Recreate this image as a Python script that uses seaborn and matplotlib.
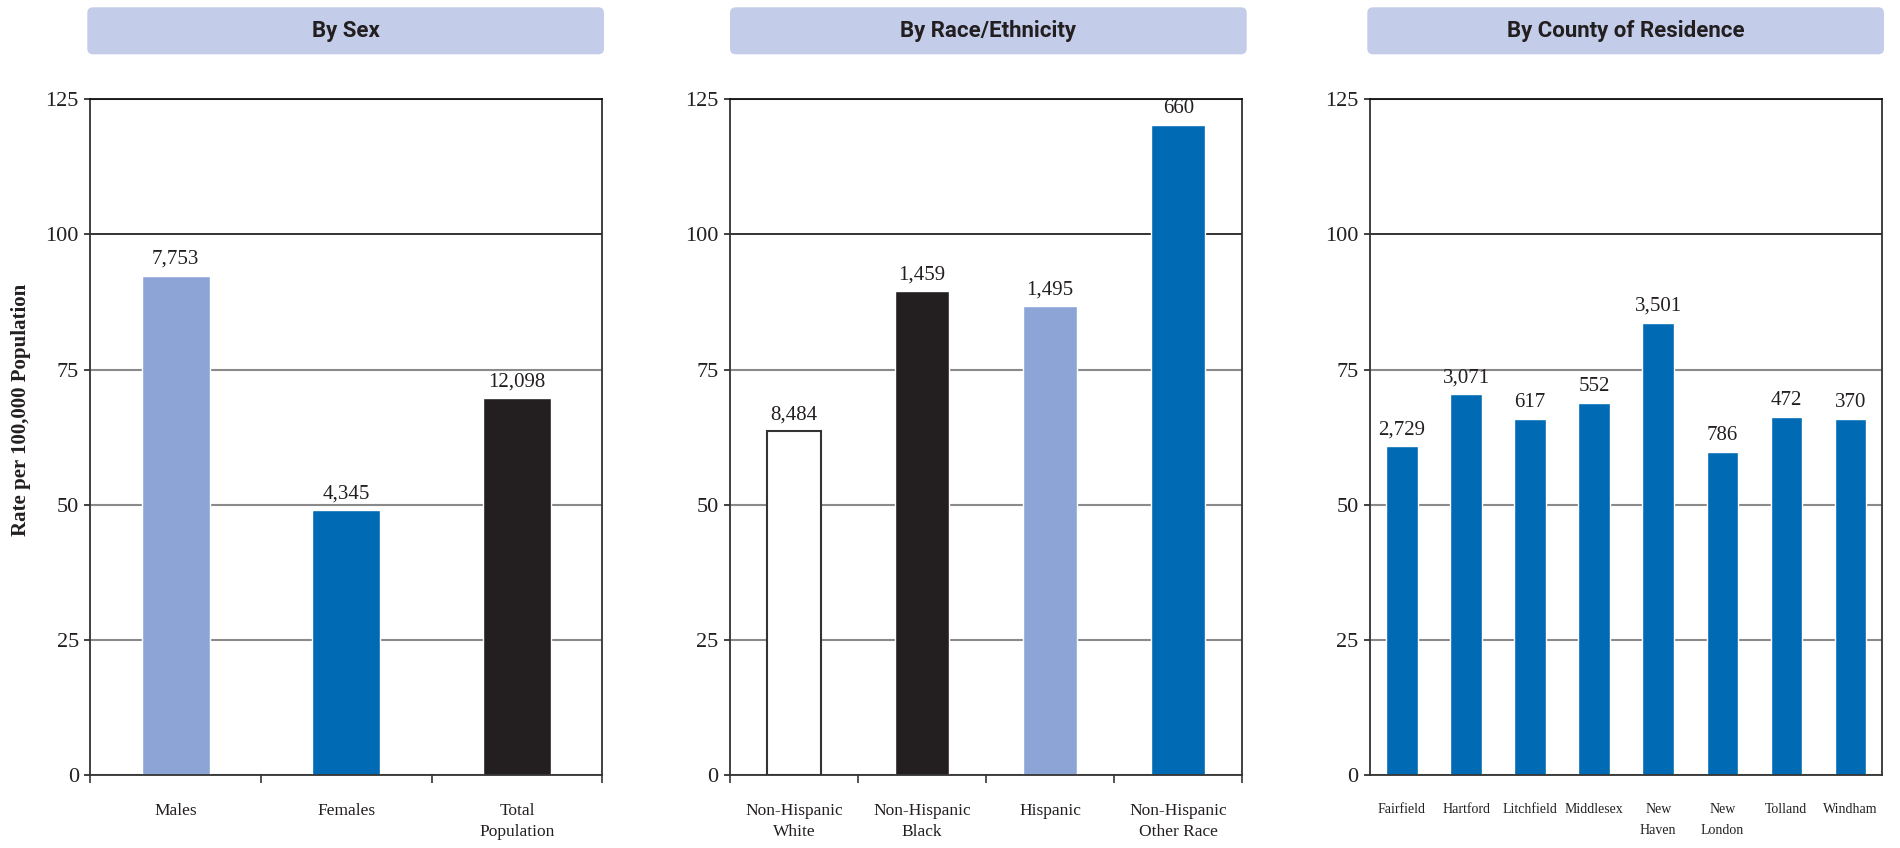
import numpy as np
import seaborn as sns
import matplotlib.pyplot as plt
from matplotlib import font_manager
from matplotlib.patches import FancyBboxPatch

# Data
sex_cats = ['Males', 'Females', 'Total\nPopulation']
sex_rates = [92.4, 49.0, 69.7]
sex_counts = ['7,753', '4,345', '12,098']

race_cats = ['Non-Hispanic\nWhite', 'Non-Hispanic\nBlack', 'Hispanic', 'Non-Hispanic\nOther Race']
race_rates = [63.6, 89.5, 86.7, 120.3]
race_counts = ['8,484', '1,459', '1,495', '660']

county_cats = ['Fairfield', 'Hartford', 'Litchfield', 'Middlesex', 'New\nHaven',
               'New\nLondon', 'Tolland', 'Windham']
county_rates = [60.8, 70.4, 65.8, 68.9, 83.7, 59.7, 66.2, 65.8]
county_counts = ['2,729', '3,071', '617', '552', '3,501', '786', '472', '370']

titles = ['By Sex', 'By Race/Ethnicity', 'By County of Residence']

LIGHT = '#8ca5d6'
BLUE = '#006ab4'
BLACK = '#231f20'
WHITE = '#ffffff'
HEADER = '#c3cde9'

sns.set_style('white')
plt.rcParams['font.family'] = ['Liberation Serif', 'DejaVu Serif']

avail = {f.name for f in font_manager.fontManager.ttflist}
head_font = 'Liberation Sans Narrow' if 'Liberation Sans Narrow' in avail else 'Roboto'

fig = plt.figure(figsize=(19, 8.48), dpi=100)

W, H = 1900, 848
def ax_rect(x0, x1, y0=99.3, y1=775):
    return [x0 / W, 1 - y1 / H, (x1 - x0) / W, (y1 - y0) / H]

panels = [
    (ax_rect(90.3, 602.3), sex_cats, sex_rates, sex_counts, [LIGHT, BLUE, BLACK], 0.4, 12.5, True),
    (ax_rect(730, 1242.3), race_cats, race_rates, race_counts, [WHITE, BLACK, LIGHT, BLUE], 0.42, 12.5, True),
    (ax_rect(1370, 1882.3), county_cats, county_rates, county_counts, [BLUE] * 8, 0.49, 10, False),
]
headers = [(87.3, 604), (730, 1246.7), (1367.3, 1884)]

for (rect, cats, rates, counts, colors, width, xsize, minor), title, (hx0, hx1) in zip(panels, titles, headers):
    ax = fig.add_axes(rect)
    sns.barplot(x=cats, y=rates, hue=cats, palette=colors, legend=False,
                width=width, saturation=1, ax=ax)
    for patch, c in zip(ax.patches, colors):
        if c == WHITE:
            patch.set_edgecolor('#333333')
            patch.set_linewidth(1.5)
    for container, lab in zip(ax.containers, counts):
        ax.bar_label(container, labels=[lab], padding=5, fontsize=15, color=BLACK)

    n = len(cats)
    ax.set_xlim(-0.5, n - 0.5)
    ax.set_ylim(0, 125)
    ax.set_yticks([0, 25, 50, 75, 100, 125])
    ax.set_xlabel('')
    ax.set_ylabel('')
    ax.tick_params(axis='y', left=True, length=4.3, width=1.2, direction='out',
                   pad=4, labelsize=16, colors=BLACK)
    ax.tick_params(axis='x', which='major', length=0, pad=20, labelsize=xsize, colors=BLACK)
    # two-line labels sit about 25 px apart in the reference
    for lbl in ax.get_xticklabels():
        lbl.set_linespacing(25 / (xsize * 100 / 72))
    if minor:
        ax.set_xticks(np.arange(-0.5, n, 1), minor=True)
        ax.tick_params(axis='x', which='minor', bottom=True, length=6, width=1.2,
                       direction='out', color='#333333')

    ax.yaxis.grid(True, color='#8a8a8a', linewidth=1.5)
    ax.set_axisbelow(True)
    grid = ax.get_ygridlines()
    grid[4].set_color('#222222')
    grid[4].set_linewidth(1.3)

    for side, spine in ax.spines.items():
        spine.set_visible(True)
        spine.set_color('#333333')
        spine.set_linewidth(1.3)
    ax.spines['top'].set_color('#111111')

    # header box above each panel
    box = FancyBboxPatch((hx0 / W, 1 - 54.3 / H), (hx1 - hx0) / W, 47 / H,
                         boxstyle='round,pad=0,rounding_size=0.003',
                         mutation_aspect=W / H, transform=fig.transFigure,
                         facecolor=HEADER, edgecolor='none')
    fig.patches.append(box)
    fig.text((hx0 + hx1) / 2 / W, 1 - 31 / H, title, ha='center', va='center',
             fontsize=16, fontweight='bold', family=head_font, color=BLACK)

fig.text(21 / W, 1 - 410 / H, 'Rate per 100,000 Population', rotation=90,
         ha='center', va='center', fontsize=15, fontweight='bold', color=BLACK)

fig.savefig('out.png', dpi=100)
